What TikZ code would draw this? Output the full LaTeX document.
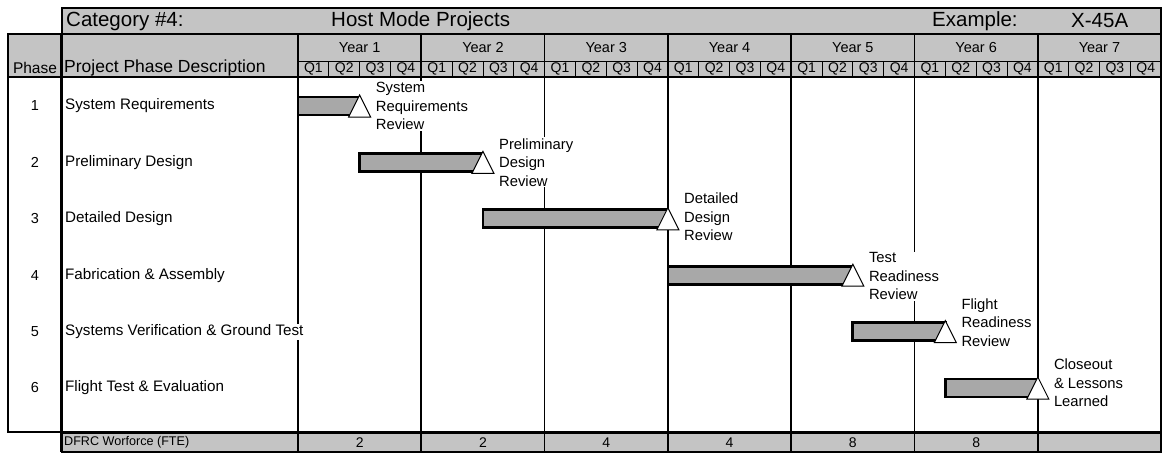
\documentclass[tikz,border=0pt]{standalone}
\usepackage{fontspec}
\setmainfont{Liberation Sans}
\usepackage{xcolor}
\definecolor{hdrgray}{gray}{0.77}
\definecolor{bargray}{gray}{0.66}
\newcommand{\chartfont}[2]{\fontsize{#1}{#2}\selectfont}

\begin{document}
\begin{tikzpicture}[x=1pt,y=-1pt,
		hdr/.style={fill=hdrgray},
		frame/.style={line width=2.6pt},
		yearline/.style={line width=1.7pt},
		qline/.style={line width=0.9pt},
		bar/.style={draw,fill=bargray,line width=2.8pt},
		mile/.style={draw,fill=white,line width=1pt},
		task/.style={anchor=west,fill=white,inner xsep=2pt,inner ysep=1pt,font=\chartfont{15.2}{18}},
		review/.style={anchor=west,align=left,fill=white,inner sep=1pt,font=\chartfont{14.8}{18.5}}]
		\useasboundingbox (0,0) rectangle (1167,453);
		\draw[hdr,frame] (62,8) rectangle (1161,34);
		\node[anchor=west,inner sep=0pt,font=\chartfont{20.5}{24}] (category) at (66,21) {Category \#4:};
		\node[anchor=west,inner sep=0pt,font=\chartfont{20.5}{24}] (hostmode) at (331,21) {Host Mode Projects};
		\node[anchor=west,inner sep=0pt,font=\chartfont{20.5}{24}] (example) at (932,21) {Example:};
		\node[anchor=west,inner sep=0pt,font=\chartfont{20.5}{24}] (vehicle) at (1071,21) {X-45A};
		\draw[hdr,frame] (8,34) rectangle (1161,77);
		\draw[qline] (298,61) -- (1161,61);
		\node[font=\chartfont{15.5}{18}] (phase) at (35,67.5) {Phase};
		\node[anchor=west,inner sep=0pt,font=\chartfont{17.5}{21}] (descr) at (64,67.5) {Project Phase Description};
		\foreach \y in {1,...,7} {
			\node[font=\chartfont{14.5}{17}] (year\y) at ({298+(\y-0.5)*123.3},48) {Year \y};
			\foreach \q in {1,...,4} \node[font=\chartfont{14}{16}] (q\y\q) at ({298+(\y-1)*123.3+(\q-0.5)*30.825},69) {Q\q};
			\foreach \q in {1,2,3} \draw[qline] ({298+(\y-1)*123.3+\q*30.825},61) -- ({298+(\y-1)*123.3+\q*30.825},77);
		}
		\draw[hdr,line width=1.4pt] (61.5,433) rectangle (1161,452);
		\draw[frame] (8,77) rectangle (1161,432);
		\draw[frame] (61.5,34) -- (61.5,452) (298,34) -- (298,452);
		\foreach \y in {1,...,6} \draw[yearline] ({298+\y*123.3},34) -- ({298+\y*123.3},452);
		\node[anchor=west,inner sep=0pt,font=\chartfont{12.6}{15}] (fte) at (64,442.5) {DFRC Worforce (FTE)};
		\foreach \y/\n in {1/2,2/2,3/4,4/4,5/8,6/8} \node[font=\chartfont{14}{15}] (fte\y) at ({298+(\y-0.5)*123.3},442.5) {\n};
		\foreach \r/\s/\e/\dy/\task/\rev in {
			1/0/2/0/{System Requirements}/{System\\Requirements\\Review},
			2/2/6/0/{Preliminary Design}/{Preliminary\\Design\\Review},
			3/6/12/-2/{Detailed Design}/{Detailed\\Design\\Review},
			4/12/18/1/{Fabrication \& Assembly}/{Test\\Readiness\\Review},
			5/18/21/-9/{Systems Verification \& Ground Test}/{Flight\\Readiness\\Review},
			6/21/24/-5/{Flight Test \& Evaluation}/{Closeout\\\& Lessons\\Learned}} {
			\pgfmathsetmacro{\yc}{106+(\r-1)*56.4}
			\pgfmathsetmacro{\xs}{298+\s*30.825}
			\pgfmathsetmacro{\xe}{298+\e*30.825}
			\node[font=\chartfont{14.5}{17}] (num\r) at (35,\yc) {\r};
			\node[task] (task\r) at (63,\yc) {\task};
			\draw[bar] (\xs,\yc-9) rectangle (\xe,\yc+9);
			\draw[mile] (\xe,\yc-11) -- (\xe+11,\yc+11) -- (\xe-11,\yc+11) -- cycle;
			\node[review] (rev\r) at (\xe+15,\yc+\dy) {\rev};
		}
	\end{tikzpicture}
\end{document}
